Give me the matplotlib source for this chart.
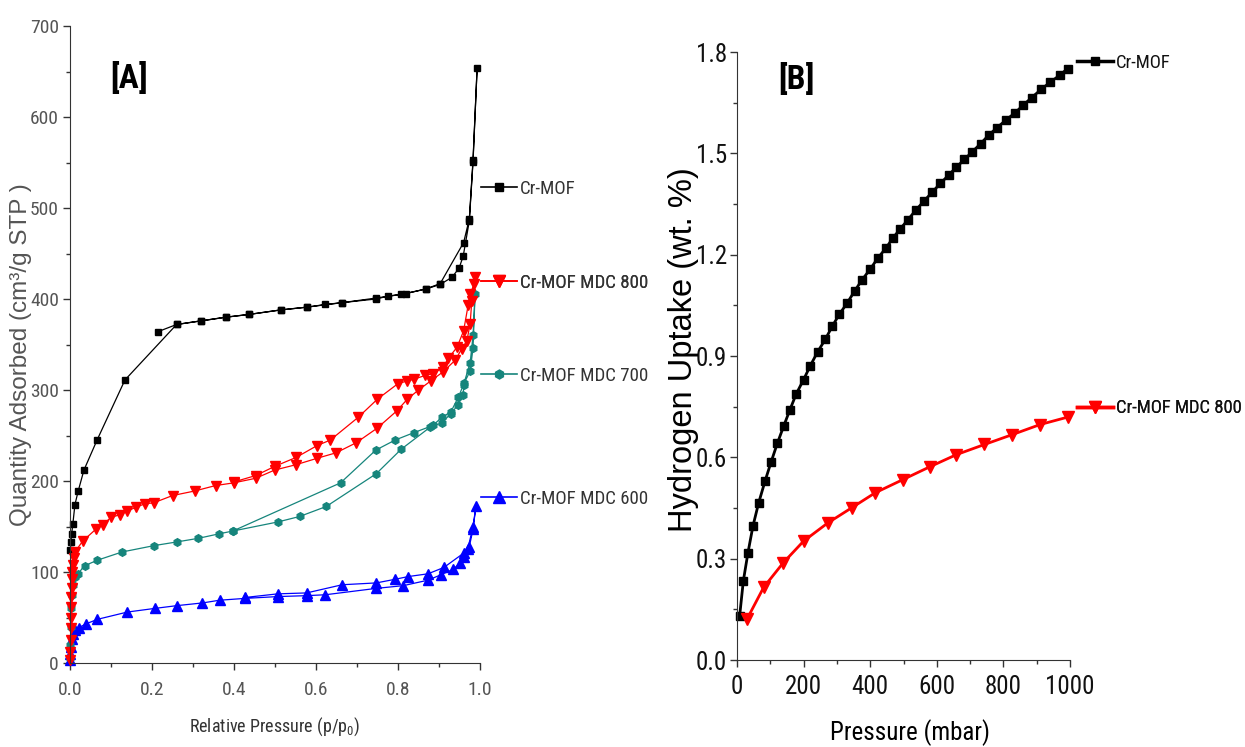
import matplotlib
matplotlib.use("Agg")
import matplotlib.pyplot as plt
from matplotlib.lines import Line2D
from matplotlib.ticker import MultipleLocator
from matplotlib import font_manager

# --- panel A: N2 isotherms (adsorption + desorption branches) ---
mof_ads_x = [0.001, 0.002, 0.004, 0.007, 0.012, 0.02, 0.034, 0.066, 0.134, 0.26, 0.32, 0.38, 0.436, 0.514,
             0.577, 0.623, 0.664, 0.746, 0.775, 0.808, 0.868, 0.903, 0.932, 0.949, 0.959, 0.974, 0.983, 0.993]
mof_ads_y = [124, 133, 142, 153, 174, 189, 212, 245, 311, 372, 376, 380, 383, 388,
             391, 394, 396, 400, 403, 405, 411, 416, 424, 434, 447, 486, 551, 654]
mof_des_x = [0.983, 0.974, 0.96, 0.903, 0.868, 0.819, 0.746, 0.664, 0.577, 0.514, 0.436, 0.38, 0.32, 0.26, 0.214]
mof_des_y = [553, 488, 462, 417, 411, 406, 401, 396, 391, 388, 383, 380, 376, 372, 364]

m800_ads_x = [0.0005, 0.001, 0.0015, 0.002, 0.0025, 0.003, 0.0035, 0.004, 0.005, 0.006, 0.007, 0.009, 0.012,
              0.031, 0.063, 0.08, 0.1, 0.122, 0.14, 0.16, 0.183, 0.204, 0.25, 0.304, 0.355, 0.4, 0.453, 0.499,
              0.552, 0.603, 0.649, 0.698, 0.749, 0.797, 0.823, 0.85, 0.88, 0.91, 0.94, 0.955, 0.968, 0.976,
              0.98, 0.988]
m800_ads_y = [3, 12, 25, 38, 50, 62, 72, 82, 92, 100, 108, 115, 122,
              134, 147, 152, 160, 163, 167, 171, 175, 176, 184, 189, 195, 198, 203, 212,
              218, 225, 231, 242, 258, 277, 290, 300, 310, 320, 333, 345, 354, 373,
              398, 424]
m800_des_x = [0.985, 0.976, 0.971, 0.96, 0.944, 0.923, 0.91, 0.886, 0.866, 0.84, 0.823, 0.8, 0.75, 0.703,
              0.635, 0.603, 0.552, 0.499, 0.453, 0.4]
m800_des_y = [416, 405, 393, 365, 347, 335, 325, 318, 316, 312, 310, 307, 290, 270,
              245, 239, 226, 216, 206, 199]

m700_ads_x = [0.0005, 0.001, 0.002, 0.003, 0.005, 0.008, 0.012, 0.019, 0.036, 0.067, 0.127, 0.205, 0.26,
              0.313, 0.364, 0.397, 0.507, 0.56, 0.625, 0.747, 0.808, 0.878, 0.907, 0.929, 0.947, 0.958,
              0.962, 0.976, 0.983, 0.988]
m700_ads_y = [5, 20, 40, 60, 75, 86, 94, 98, 107, 113, 122, 129, 133,
              137, 142, 145, 155, 161, 172, 208, 235, 259, 264, 274, 284, 294,
              308, 321, 346, 406]
m700_des_x = [0.983, 0.976, 0.96, 0.947, 0.929, 0.907, 0.885, 0.838, 0.793, 0.746, 0.66, 0.397]
m700_des_y = [360, 330, 306, 292, 276, 270, 261, 253, 245, 234, 198, 145]

m600_ads_x = [0.0005, 0.001, 0.002, 0.004, 0.007, 0.012, 0.022, 0.039, 0.067, 0.14, 0.207, 0.26, 0.323,
              0.365, 0.427, 0.507, 0.577, 0.623, 0.747, 0.813, 0.873, 0.905, 0.935, 0.951, 0.961, 0.974,
              0.983, 0.99]
m600_ads_y = [3, 10, 18, 26, 32, 36, 39, 43, 48, 56, 60, 63, 66,
              69, 71, 73, 74, 75, 82, 85, 91, 97, 103, 110, 117, 128,
              147, 172]
m600_des_x = [0.983, 0.97, 0.961, 0.912, 0.873, 0.825, 0.793, 0.747, 0.664, 0.577, 0.507, 0.427]
m600_des_y = [150, 125, 121, 105, 98, 95, 92, 88, 86, 77, 76, 72]

# --- panel B: H2 uptake ---
h2_mof_p = [8, 19, 33, 48, 65, 84, 102, 121, 140, 159, 178, 200, 220, 242, 265, 286, 307, 331, 353, 376,
            400, 423, 447, 468, 490, 513, 538, 562, 587, 611, 636, 659, 683, 707, 732, 756, 781, 807,
            835, 860, 885, 913, 941, 969, 993]
h2_mof_w = [0.131, 0.234, 0.318, 0.397, 0.465, 0.529, 0.585, 0.641, 0.692, 0.741, 0.788, 0.830, 0.871,
            0.912, 0.949, 0.988, 1.023, 1.057, 1.092, 1.126, 1.157, 1.190, 1.219, 1.249, 1.276, 1.303,
            1.333, 1.359, 1.386, 1.411, 1.436, 1.459, 1.482, 1.505, 1.529, 1.554, 1.576, 1.598, 1.620,
            1.643, 1.665, 1.689, 1.711, 1.731, 1.751]
h2_800_p = [30, 80, 139, 200, 273, 345, 415, 498, 579, 659, 743, 826, 910, 993]
h2_800_w = [0.121, 0.215, 0.288, 0.352, 0.406, 0.451, 0.495, 0.534, 0.572, 0.608, 0.638, 0.667, 0.697, 0.719]

# pick a narrow font if one is installed (the original uses Arial Narrow-like text)
fonts = font_manager.fontManager.ttflist
names = {f.name for f in fonts}
narrow, stretch, wscale = None, "normal", 1.0
for cand in ["Liberation Sans Narrow", "Roboto Condensed", "Open Sans Condensed",
             "Open Sans SemiCondensed", "Noto Sans Condensed", "Noto Sans SemiCondensed"]:
    if cand in names:
        narrow = cand
        break
if narrow is None:
    others = sorted(n for n in names if ("Narrow" in n or "Condensed" in n) and "Mono" not in n
                    and "Serif" not in n)
    if others:
        narrow = others[0]
if narrow is None:
    dj = [f for f in fonts if f.name == "DejaVu Sans" and str(f.stretch) in ("condensed", "semi-condensed")]
    if dj:
        narrow, stretch, wscale = "DejaVu Sans", "condensed", 0.9
if narrow is None:
    narrow, wscale = ("Liberation Sans" if "Liberation Sans" in names else "DejaVu Sans"), 0.82
plain = "Liberation Sans" if "Liberation Sans" in names else "DejaVu Sans"

plt.rcParams["font.family"] = [narrow, "DejaVu Sans"]
plt.rcParams["font.stretch"] = stretch
plt.rcParams["mathtext.fontset"] = "custom"
plt.rcParams["mathtext.rm"] = narrow
plt.rcParams["mathtext.it"] = narrow

BLACK, RED, TEAL, BLUE = "#000000", "#ff0000", "#16857c", "#0000ff"
GRAY = "#555555"

fig = plt.figure(figsize=(12.45, 7.47), dpi=100)
axA = fig.add_axes([70 / 1245, 84 / 747, 410 / 1245, 637 / 747])
axB = fig.add_axes([737 / 1245, 87 / 747, 333 / 1245, 608 / 747])


def side_label(ax, text, x, y, size, txtcolor, **kw):
    h = Line2D([], [], **kw)
    leg = ax.legend([h], [text], loc="center left", bbox_to_anchor=(x, y), frameon=False,
                    handlelength=36 / (size * 100 / 72), handletextpad=3 / (size * 100 / 72),
                    borderpad=0, borderaxespad=0,
                    prop={"family": [narrow, "DejaVu Sans"], "size": size, "stretch": stretch},
                    labelcolor=txtcolor)
    ax.add_artist(leg)


# panel A
series = [
    (mof_ads_x + mof_des_x, mof_ads_y + mof_des_y, BLACK, "s", 5, "Cr-MOF", 0.744),
    (m600_ads_x + m600_des_x, m600_ads_y + m600_des_y, BLUE, "^", 7, "Cr-MOF MDC 600", 0.2575),
    (m700_ads_x + m700_des_x, m700_ads_y + m700_des_y, TEAL, "h", 5.5, "Cr-MOF MDC 700", 0.451),
    (m800_ads_x + m800_des_x, m800_ads_y + m800_des_y, RED, "v", 7, "Cr-MOF MDC 800", 0.597),
]
for xs, ys, c, mk, ms, lab, ly in series:
    axA.plot(xs, ys, color=c, lw=0.9, marker=mk, ms=ms, clip_on=False)
    side_label(axA, lab, 1.002, ly, 13.6 * wscale, "#333333", color=c, lw=1.2, marker=mk, ms=ms + 1)

axA.set_xlim(0, 1.0)
axA.set_ylim(0, 700)
axA.xaxis.set_major_locator(MultipleLocator(0.2))
axA.xaxis.set_minor_locator(MultipleLocator(0.1))
axA.yaxis.set_major_locator(MultipleLocator(100))
axA.yaxis.set_minor_locator(MultipleLocator(50))
axA.xaxis.set_major_formatter(plt.FuncFormatter(lambda v, p: f"{v:.1f}"))
for s in ["top", "right"]:
    axA.spines[s].set_visible(False)
for s in ["left", "bottom"]:
    axA.spines[s].set_color("#333333")
axA.tick_params(which="major", direction="out", length=5, width=1, colors="#333333",
                labelsize=14 * wscale, labelcolor=GRAY, pad=3)
axA.tick_params(which="minor", direction="out", length=3, width=1, colors="#333333")
axA.tick_params(axis="x", pad=8)
axA.set_xlabel("Relative Pressure (p/p$_0$)", fontsize=13 * wscale, color="#333333")
axA.xaxis.set_label_coords(0.5, -0.083)
axA.set_ylabel("Quantity Adsorbed (cm³/g STP )", fontsize=17.5, color=GRAY, family=plain)
axA.yaxis.set_label_coords(-0.093, 0.484)
axA.text(0.144, 0.918, "[A]", transform=axA.transAxes, fontsize=24 * wscale, fontweight="bold",
         ha="center", va="center")

# panel B
axB.plot(h2_mof_p, h2_mof_w, color=BLACK, lw=2, marker="s", ms=6, clip_on=False)
axB.plot(h2_800_p, h2_800_w, color=RED, lw=2, marker="v", ms=8, clip_on=False)
side_label(axB, "Cr-MOF", 1.021, 0.982, 13.4 * wscale, "#111111", color=BLACK, lw=2.5, marker="s", ms=6)
side_label(axB, "Cr-MOF MDC 800", 1.021, 0.414, 13.4 * wscale, "#111111", color=RED, lw=2.5, marker="v", ms=8)

axB.set_xlim(0, 1000)
axB.set_ylim(0, 1.8)
axB.xaxis.set_major_locator(MultipleLocator(200))
axB.xaxis.set_minor_locator(MultipleLocator(100))
axB.yaxis.set_major_locator(MultipleLocator(0.3))
axB.yaxis.set_minor_locator(MultipleLocator(0.15))
axB.yaxis.set_major_formatter(plt.FuncFormatter(lambda v, p: f"{v:.1f}"))
for s in ["top", "right"]:
    axB.spines[s].set_visible(False)
for s in ["left", "bottom"]:
    axB.spines[s].set_color("#333333")
axB.tick_params(which="major", direction="out", length=5, width=1, colors="#333333",
                labelsize=18 * wscale, labelcolor="#111111", pad=2)
axB.tick_params(which="minor", direction="out", length=3, width=1, colors="#333333")
axB.tick_params(axis="x", pad=6)
axB.set_xlabel("Pressure (mbar)", fontsize=18 * wscale)
axB.xaxis.set_label_coords(0.52, -0.097)
axB.set_ylabel("Hydrogen Uptake (wt. %)", fontsize=23.5, family=plain)
axB.yaxis.set_label_coords(-0.115, 0.51)
axB.text(0.177, 0.954, "[B]", transform=axB.transAxes, fontsize=24 * wscale, fontweight="bold",
         ha="center", va="center")

fig.savefig("out.png", dpi=100)
